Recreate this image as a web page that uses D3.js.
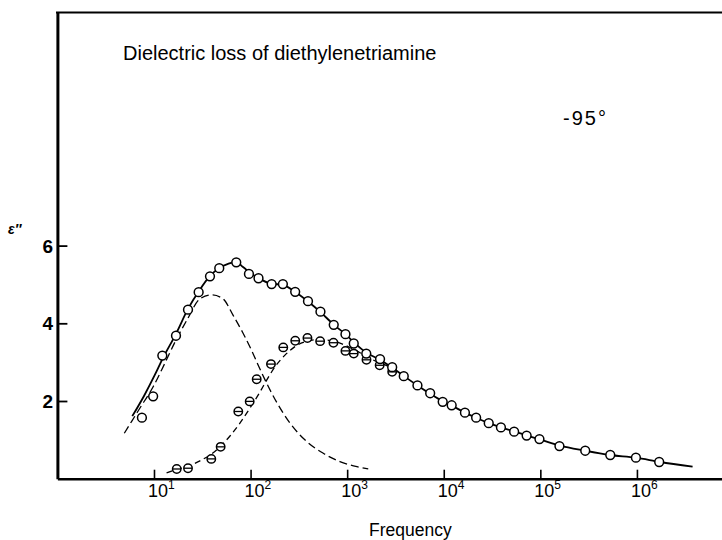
<!DOCTYPE html>
<html>
<head>
<meta charset="utf-8">
<script src="https://cdn.jsdelivr.net/npm/d3@7"></script>
<style>
  html, body { margin: 0; padding: 0; background: #fff; }
  svg { display: block; }
  text { font-family: "Liberation Sans", Arial, sans-serif; fill: #000; }
</style>
</head>
<body>
<svg id="chart" width="722" height="540"></svg>
<script>
// ---- data ----
const titleText = "Dielectric loss of diethylenetriamine";
const tempLabel = "-95°";
const xLabel = "Frequency";
const yLabel = "ε″";
const yTicks = [2, 4, 6];
const xTicks = [1e1, 1e2, 1e3, 1e4, 1e5, 1e6];
const xTickExp = ["1", "2", "3", "4", "5", "6"];

// measured total loss (open circles)
const totalFreq = [7.5, 9.8, 12.2, 16.9, 22.5, 29.0, 38.0, 47.4, 71.1, 96.2, 120.8, 165.3, 216, 289.6, 393, 529, 726, 960, 1170, 1577, 2191, 2925, 3854, 5342, 7235, 9750, 12080, 16570, 21640, 29220, 39090, 53550, 72130, 97900, 157700, 291700, 529600, 976000, 1700000];
const totalEps  = [1.57, 2.12, 3.17, 3.68, 4.35, 4.80, 5.21, 5.42, 5.57, 5.27, 5.16, 5.01, 5.01, 4.81, 4.57, 4.30, 3.96, 3.72, 3.48, 3.22, 3.08, 2.87, 2.64, 2.40, 2.20, 1.98, 1.89, 1.70, 1.57, 1.43, 1.32, 1.21, 1.11, 1.02, 0.84, 0.72, 0.61, 0.54, 0.43];

// second (high-frequency) process (barred circles)
const secondFreq = [17.2, 22.5, 39.2, 49.0, 74.6, 97.9, 115.7, 162.6, 218, 290, 388, 525, 721, 960, 1170, 1585, 2170, 2925];
const secondEps  = [0.25, 0.27, 0.51, 0.82, 1.73, 1.99, 2.56, 2.95, 3.38, 3.55, 3.62, 3.54, 3.50, 3.29, 3.22, 3.06, 2.92, 2.75];

// drawn fitted curve (solid)
const fitFreq = [5.96, 7.88, 10.2, 12.4, 16.9, 22.5, 29.2, 38.0, 47.1, 58.4, 70.6, 83.5, 98.6, 119, 163, 216, 288, 393, 523, 730, 970, 1175, 1567, 2188, 2911, 3873, 5342, 7194, 9813, 12160, 16570, 21530, 29380, 39090, 53340, 72780, 99100, 159600, 289700, 525100, 976000, 1730000, 3770000];
const fitEps  = [1.61, 2.13, 2.67, 3.11, 3.73, 4.37, 4.83, 5.22, 5.42, 5.53, 5.58, 5.45, 5.30, 5.17, 5.02, 4.99, 4.81, 4.56, 4.30, 3.96, 3.71, 3.51, 3.25, 3.06, 2.86, 2.64, 2.40, 2.19, 1.99, 1.88, 1.70, 1.57, 1.43, 1.32, 1.22, 1.11, 1.01, 0.85, 0.72, 0.61, 0.54, 0.43, 0.31];

// low-frequency component (long dashes)
const comp1Freq = [4.93, 5.92, 7.16, 9.77, 13.0, 16.9, 22.0, 29.9, 39.8, 51.8, 65.8, 83.4, 103, 122, 144, 188, 256, 384, 561, 841, 1262, 1652];
const comp1Eps  = [1.17, 1.49, 1.82, 2.36, 2.98, 3.57, 4.09, 4.63, 4.73, 4.63, 4.21, 3.75, 3.29, 2.88, 2.50, 1.95, 1.43, 0.95, 0.66, 0.44, 0.31, 0.25];

// high-frequency component (short dashes)
const comp2Freq = [13.5, 17.3, 23.6, 29.9, 38.0, 48.2, 61.2, 77.6, 98.6, 125, 144, 179, 227, 288, 375, 499, 664, 883, 1205, 1849, 2911, 3357];
const comp2Eps  = [0.15, 0.24, 0.34, 0.46, 0.61, 0.82, 1.10, 1.43, 1.82, 2.23, 2.50, 2.88, 3.18, 3.40, 3.53, 3.58, 3.56, 3.47, 3.31, 3.06, 2.85, 2.77];

// ---- drawing ----
const svg = d3.select("#chart");
const x = d3.scaleLog().domain([1, 7.6e6]).range([57.4, 722]);
const y = d3.scaleLinear().domain([0, 12]).range([478.7, 12.5]);

const zip = (a, b) => a.map((v, i) => [v, b[i]]);
const line = d3.line().x(d => x(d[0])).y(d => y(d[1])).curve(d3.curveMonotoneX);

// frame: top line, left axis, bottom axis
svg.append("line").attr("x1", 56).attr("x2", 722).attr("y1", y(12)).attr("y2", y(12))
  .attr("stroke", "#000").attr("stroke-width", 2);

const xAxis = svg.append("g").attr("transform", `translate(0,${y(0)})`)
  .call(d3.axisBottom(x).tickValues(xTicks).tickSize(-9).tickSizeOuter(0).tickFormat(""));
xAxis.select(".domain").attr("stroke-width", 2.5);
xAxis.selectAll(".tick line").attr("stroke-width", 1.6);

const yAxis = svg.append("g").attr("transform", `translate(${x(1)},0)`)
  .call(d3.axisLeft(y).tickValues(yTicks).tickSize(-10).tickSizeOuter(0).tickFormat(""));
yAxis.select(".domain").attr("stroke-width", 3);
yAxis.selectAll(".tick line").attr("stroke-width", 1.8);

// y tick labels
svg.selectAll(".ylab").data(yTicks).enter().append("text")
  .attr("class", "ylab")
  .attr("x", 53).attr("y", d => y(d) + 7)
  .attr("text-anchor", "end")
  .attr("font-size", 19).attr("font-weight", "bold")
  .text(d => d);

// x tick labels 10^n
const xl = svg.selectAll(".xlab").data(xTicks).enter().append("text")
  .attr("class", "xlab")
  .attr("x", d => x(d) - 6).attr("y", 497)
  .attr("font-size", 18);
xl.append("tspan").text("10");
xl.append("tspan").attr("dy", -8).attr("font-size", 12).text((d, i) => xTickExp[i]);

// curves
svg.append("path").datum(zip(comp1Freq, comp1Eps)).attr("d", line)
  .attr("fill", "none").attr("stroke", "#000").attr("stroke-width", 1.3).attr("stroke-dasharray", "8,4");
svg.append("path").datum(zip(comp2Freq, comp2Eps)).attr("d", line)
  .attr("fill", "none").attr("stroke", "#000").attr("stroke-width", 1.3).attr("stroke-dasharray", "6,4");
svg.append("path").datum(zip(fitFreq, fitEps)).attr("d", line)
  .attr("fill", "none").attr("stroke", "#000").attr("stroke-width", 1.8);

// barred circles (second process)
const sec = svg.selectAll(".sec").data(zip(secondFreq, secondEps)).enter().append("g")
  .attr("transform", d => `translate(${x(d[0])},${y(d[1])})`);
sec.append("circle").attr("r", 4.2).attr("fill", "#fff").attr("stroke", "#000").attr("stroke-width", 1.5);
sec.append("line").attr("x1", -4.2).attr("x2", 4.2).attr("stroke", "#000").attr("stroke-width", 1.3);

// open circles (total)
svg.selectAll(".tot").data(zip(totalFreq, totalEps)).enter().append("circle")
  .attr("cx", d => x(d[0])).attr("cy", d => y(d[1])).attr("r", 4.4)
  .attr("fill", "#fff").attr("stroke", "#000").attr("stroke-width", 1.5);

// texts
svg.append("text").attr("x", 123).attr("y", 60).attr("font-size", 20).text(titleText);
svg.append("text").attr("x", 563).attr("y", 125).attr("font-size", 20).attr("letter-spacing", 2).text(tempLabel);
svg.append("text").attr("x", 8).attr("y", 234).attr("font-size", 14).attr("font-weight", "bold").attr("font-style", "italic").text(yLabel);
svg.append("text").attr("x", 369).attr("y", 536).attr("font-size", 17.5).text(xLabel);
</script>
</body>
</html>
